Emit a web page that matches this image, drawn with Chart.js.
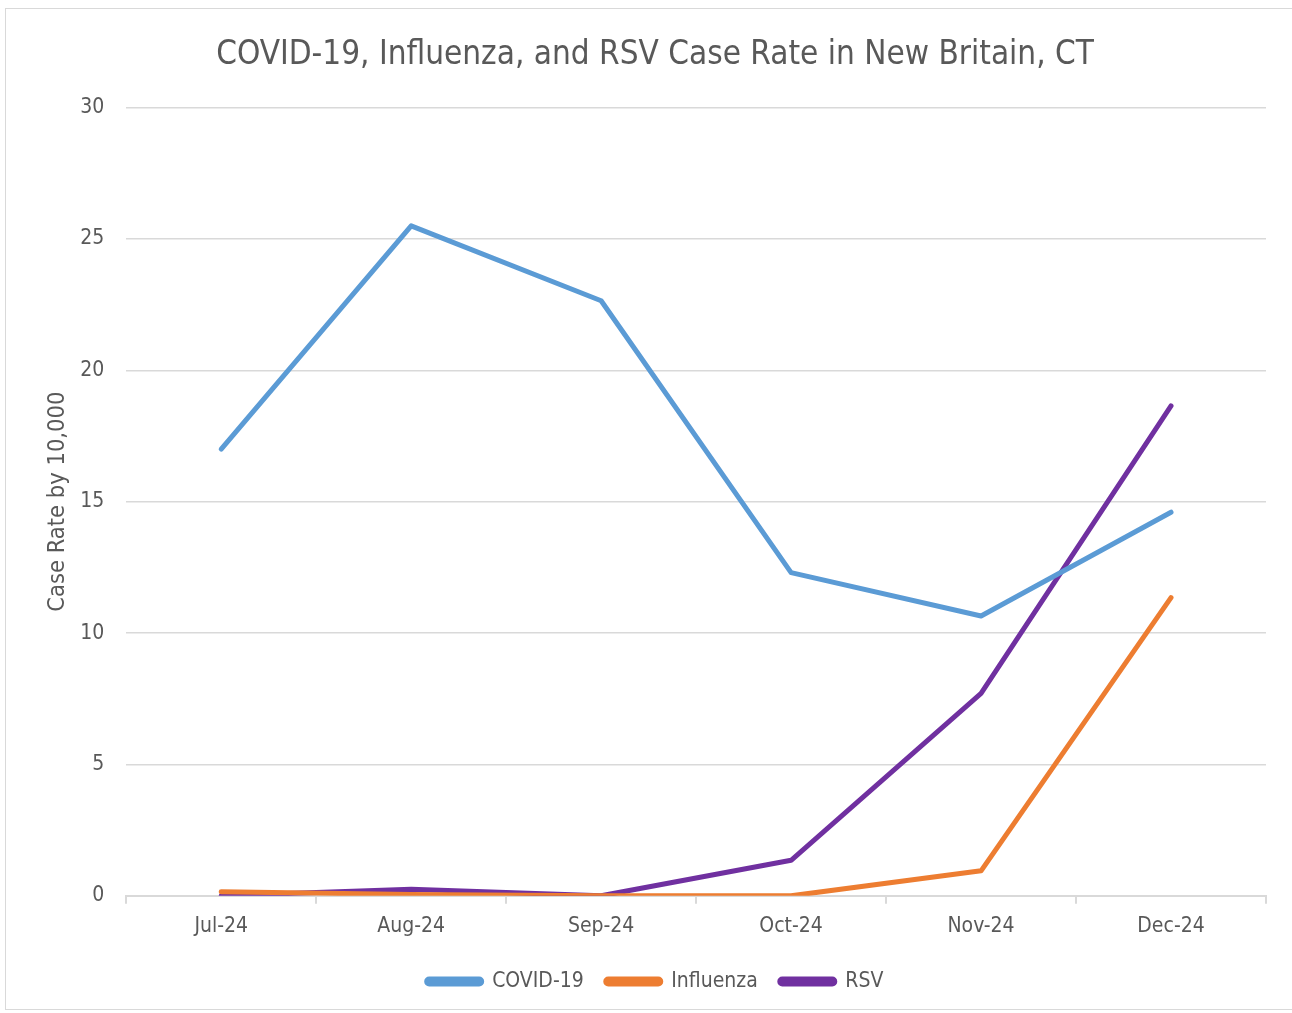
<!DOCTYPE html>
<html>
<head>
<meta charset="utf-8">
<script src="https://cdn.jsdelivr.net/npm/chart.js@4.4.1/dist/chart.umd.min.js"></script>
<style>
  html, body { margin: 0; padding: 0; background: #fff; }
  #wrap { position: absolute; left: 0; top: 0; width: 1292px; height: 1013px; }
  #frame { position: absolute; left: 5px; top: 8px; width: 1300px; height: 1000px; border: 1px solid #d9d9d9; }
</style>
</head>
<body>
<div id="wrap">
  <div id="frame"></div>
  <canvas id="c" width="1292" height="1013" style="position:absolute;left:0;top:0;"></canvas>
</div>
<script>
const categories = ["Jul-24", "Aug-24", "Sep-24", "Oct-24", "Nov-24", "Dec-24"];
const covid = [17.0, 25.5, 22.65, 12.3, 10.65, 14.6];
const influenza = [0.15, 0.05, 0.0, 0.0, 0.95, 11.35];
const rsv = [0.0, 0.25, 0.0, 1.35, 7.7, 18.65];
const yTicks = [0, 5, 10, 15, 20, 25, 30];

const FONT = "'DejaVu Sans Condensed', 'Open Sans', sans-serif";
const grey = '#595959';

function ds(label, data, color) {
  return {
    label, data,
    borderColor: color, backgroundColor: color,
    borderWidth: 5, pointRadius: 0, tension: 0,
    borderCapStyle: 'round', borderJoinStyle: 'round'
  };
}

new Chart(document.getElementById('c'), {
  type: 'line',
  data: {
    labels: categories,
    datasets: [
      ds('COVID-19', covid, '#5b9bd5'),
      ds('Influenza', influenza, '#ed7d31'),
      ds('RSV', rsv, '#7030a0')
    ]
  },
  options: {
    responsive: false,
    animation: false,
    layout: { padding: { left: 44, right: 26, top: 36, bottom: 11 } },
    plugins: {
      title: {
        display: true,
        text: 'COVID-19, Influenza, and RSV Case Rate in New Britain, CT',
        color: grey,
        font: { family: FONT, size: 33, weight: 'normal' },
        padding: { top: 0, bottom: 32 }
      },
      legend: {
        position: 'bottom',
        labels: {
          color: grey,
          font: { family: FONT, size: 21 },
          boxWidth: 55,
          boxHeight: 5,
          useBorderRadius: true,
          borderRadius: 2.5,
          padding: 22
        }
      },
      tooltip: { enabled: false }
    },
    scales: {
      x: {
        offset: true,
        grid: {
          offset: true,
          drawOnChartArea: false,
          drawTicks: true,
          tickLength: 8,
          color: '#d9d9d9',
          lineWidth: 2
        },
        border: { display: true, color: '#d9d9d9', width: 2 },
        ticks: { color: grey, font: { family: FONT, size: 21 }, padding: 10 }
      },
      y: {
        min: 0, max: 30,
        afterBuildTicks: (axis) => { axis.ticks = yTicks.map(v => ({ value: v })); },
        grid: { color: '#d9d9d9', lineWidth: 1.5, drawTicks: false },
        border: { display: false },
        ticks: { color: grey, font: { family: FONT, size: 21 }, padding: 22 },
        title: {
          display: true,
          text: 'Case Rate by 10,000',
          color: grey,
          font: { family: FONT, size: 23.5 },
          padding: { top: 0, bottom: -14 }
        }
      }
    }
  }
});
</script>
</body>
</html>
